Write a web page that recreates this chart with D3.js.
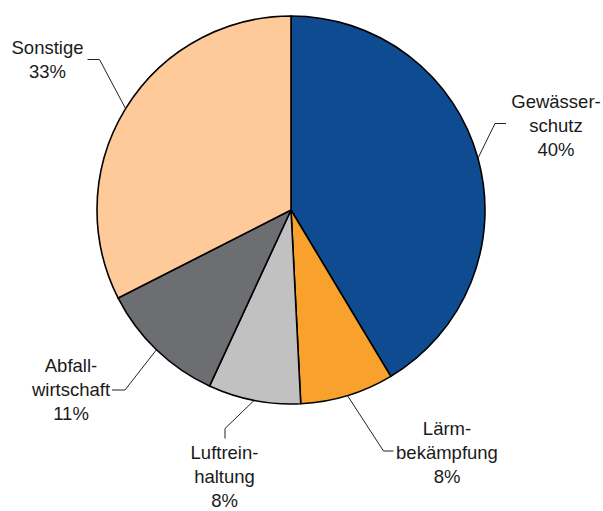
<!DOCTYPE html>
<html>
<head>
<meta charset="utf-8">
<script src="https://cdn.jsdelivr.net/npm/d3@7"></script>
<style>
  body { margin: 0; background: #fff; }
  text { font-family: "Liberation Sans", Arial, sans-serif; font-size: 18.5px; fill: #1a1a1a; }
</style>
</head>
<body>
<div id="chart"></div>
<script>
'use strict';

// slice shares as drawn (the printed labels are rounded)
var categories = ['Gewässerschutz', 'Lärmbekämpfung', 'Luftreinhaltung', 'Abfallwirtschaft', 'Sonstige'];
var values = [41.4, 7.8, 7.7, 10.6, 32.5];
var labelLines = [
    ['Gewässer-', 'schutz', '40%'],
    ['Lärm-', 'bekämpfung', '8%'],
    ['Luftrein-', 'haltung', '8%'],
    ['Abfall-', 'wirtschaft', '11%'],
    ['Sonstige', '33%']
];
var colors = ['#0f4b91', '#f8a12c', '#c1c1c1', '#6c6e71', '#ffca99'];

// label placement: text centre x, first baseline y, leader elbow and end
var labelPos = [
    {x: 556, y: 108, elbow: [495, 123.5], end: [506, 123.5]},
    {x: 447, y: 435, elbow: [383.5, 451], end: [393.5, 451]},
    {x: 224.5, y: 458.5, elbow: [225, 428.5], end: [225, 438.5]},
    {x: 71, y: 372, elbow: [125, 390], end: [112, 390]},
    {x: 47.5, y: 53.5, elbow: [99.5, 59.5], end: [87.5, 59.5]}
];

var width = 603, height = 511;
var cx = 291, cy = 210, radius = 194;
var lineHeight = 24;

var svg = d3.select('#chart').append('svg')
    .attr('width', width)
    .attr('height', height);

var pie = d3.pie()
    .sort(null)
    .value(function (d) { return d; });

var arcs = pie(values);

var arc = d3.arc()
    .innerRadius(0)
    .outerRadius(radius);

var edge = d3.arc()
    .innerRadius(radius)
    .outerRadius(radius);

var g = svg.append('g')
    .attr('transform', 'translate(' + cx + ',' + cy + ')');

g.selectAll('path.slice')
    .data(arcs)
    .enter().append('path')
    .attr('class', 'slice')
    .attr('d', arc)
    .style('fill', function (d, i) { return colors[i]; })
    .style('stroke', '#000')
    .style('stroke-width', 1.6)
    .style('stroke-linejoin', 'round');

// leader lines from the middle of each arc
svg.selectAll('polyline.leader')
    .data(arcs)
    .enter().append('polyline')
    .attr('class', 'leader')
    .attr('points', function (d, i) {
        var c = edge.centroid(d);
        var p = labelPos[i];
        return [[cx + c[0], cy + c[1]], p.elbow, p.end].map(function (pt) {
            return pt.join(',');
        }).join(' ');
    })
    .style('fill', 'none')
    .style('stroke', '#222')
    .style('stroke-width', 1);

var labels = svg.selectAll('text.label')
    .data(categories)
    .enter().append('text')
    .attr('class', 'label')
    .attr('text-anchor', 'middle');

labels.each(function (d, i) {
    var t = d3.select(this);
    labelLines[i].forEach(function (line, j) {
        t.append('tspan')
            .attr('x', labelPos[i].x)
            .attr('y', labelPos[i].y + j * lineHeight)
            .text(line);
    });
});
</script>
</body>
</html>
